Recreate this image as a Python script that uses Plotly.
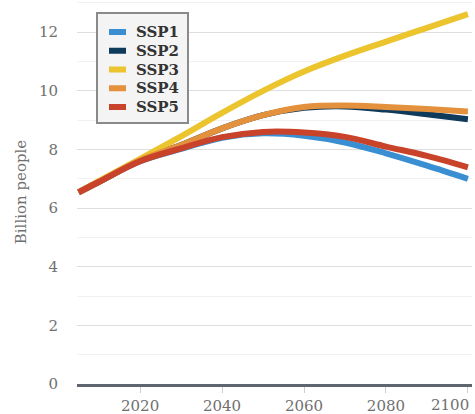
import plotly.graph_objects as go

years = [2005, 2010, 2020, 2030, 2040, 2050, 2060, 2070, 2080, 2090, 2100]
ssp1 = [6.54, 6.9, 7.6, 8.02, 8.4, 8.55, 8.47, 8.24, 7.87, 7.45, 7.0]
ssp2 = [6.54, 6.9, 7.63, 8.15, 8.72, 9.17, 9.42, 9.47, 9.36, 9.2, 9.03]
ssp3 = [6.54, 6.93, 7.68, 8.45, 9.25, 10.0, 10.66, 11.2, 11.68, 12.15, 12.62]
ssp4 = [6.54, 6.9, 7.63, 8.15, 8.72, 9.17, 9.45, 9.5, 9.45, 9.38, 9.3]
ssp5 = [6.54, 6.9, 7.6, 8.04, 8.42, 8.6, 8.58, 8.43, 8.1, 7.78, 7.39]

names = ["SSP1", "SSP2", "SSP3", "SSP4", "SSP5"]
series = [ssp1, ssp2, ssp3, ssp4, ssp5]
colors = ["#3a8fd3", "#0e3a5c", "#ebc42e", "#e3913c", "#c9432b"]
xticks = [2020, 2040, 2060, 2080, 2100]
yticks = [0, 2, 4, 6, 8, 10, 12]

W, H = 475, 414
ML, MR, MT, MB = 77, 3, 0, 30
PW, PH = W - ML - MR, H - MT - MB

def px(X):
    return (X - ML) / PW

def py(Y):
    return 1 - (Y - MT) / PH

fig = go.Figure()
for n, s, c in zip(names, series, colors):
    fig.add_trace(go.Scatter(x=years, y=s, name=n, mode="lines",
                             line=dict(color=c, width=6, shape="spline", smoothing=1.0)))

font_family = "DejaVu Serif"
tick_font = dict(family=font_family, size=15, color="#707070")

# manual legend
shapes = [dict(type="rect", xref="paper", yref="paper",
               x0=px(97), x1=px(188), y0=py(123), y1=py(13),
               fillcolor="#f4f4f4", line=dict(color="#8a8a8a", width=2), layer="above")]
annotations = []
for i, (n, c) in enumerate(zip(names, colors)):
    yc = 32 + i * 18.75
    shapes.append(dict(type="line", xref="paper", yref="paper",
                       x0=px(109), x1=px(126), y0=py(yc), y1=py(yc),
                       line=dict(color=c, width=6), layer="above"))
    annotations.append(dict(xref="paper", yref="paper", x=px(134), y=py(yc),
                            xanchor="left", yanchor="middle", showarrow=False,
                            text="<b>" + n + "</b>",
                            font=dict(family=font_family, size=15, color="#333")))

# last x tick label, kept inside the page
annotations.append(dict(xref="x", yref="paper", x=xticks[-1], y=0, yshift=-10,
                        xanchor="right", yanchor="top", xshift=3, showarrow=False,
                        text=str(xticks[-1]), font=tick_font))

fig.update_layout(
    width=W, height=H,
    margin=dict(l=ML, r=MR, t=MT, b=MB),
    plot_bgcolor="white", paper_bgcolor="white",
    font=dict(family=font_family, size=15, color="#707070"),
    showlegend=False,
    shapes=shapes, annotations=annotations,
    xaxis=dict(range=[2004.6, 2101], tickvals=xticks,
               ticktext=[str(t) for t in xticks[:-1]] + [""],
               showgrid=False, zeroline=False,
               showline=True, linecolor="#5f656e", linewidth=3,
               ticks="outside", ticklen=6, tickcolor="#ccc", tickwidth=1,
               tickfont=tick_font),
    yaxis=dict(range=[0, 13.1], tickvals=yticks,
               showgrid=True, gridcolor="#dedede", gridwidth=1,
               minor=dict(dtick=1, tick0=0, showgrid=True, gridcolor="#f2f2f2"),
               zeroline=False, showline=False, ticks="",
               ticklabelstandoff=18,
               title=dict(text="Billion people", font=dict(family=font_family, size=15, color="#707070"), standoff=8),
               tickfont=tick_font),
)

fig.write_html("out.html", config={"displayModeBar": False},
               post_script="document.body.style.margin='0';")
